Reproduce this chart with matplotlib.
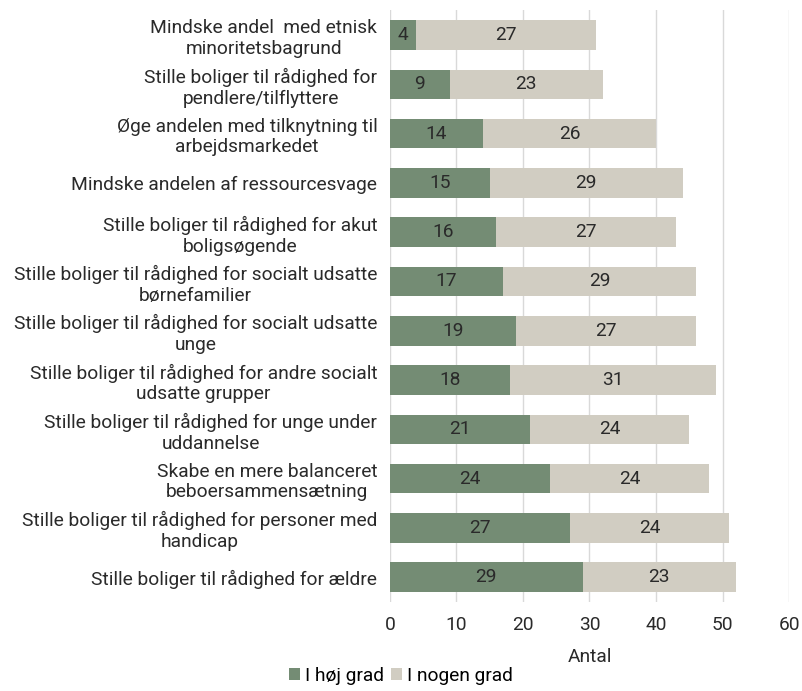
import numpy as np
import matplotlib.pyplot as plt

plt.rcParams['font.family'] = ['Roboto', 'DejaVu Sans']

# indsatser, fra top til bund
kategorier = [
    "Mindske andel  med etnisk\nminoritetsbagrund",
    "Stille boliger til rådighed for\npendlere/tilflyttere",
    "Øge andelen med tilknytning til\narbejdsmarkedet",
    "Mindske andelen af ressourcesvage",
    "Stille boliger til rådighed for akut\nboligsøgende",
    "Stille boliger til rådighed for socialt udsatte\nbørnefamilier",
    "Stille boliger til rådighed for socialt udsatte\nunge",
    "Stille boliger til rådighed for andre socialt\nudsatte grupper",
    "Stille boliger til rådighed for unge under\nuddannelse",
    "Skabe en mere balanceret\nbeboersammensætning",
    "Stille boliger til rådighed for personer med\nhandicap",
    "Stille boliger til rådighed for ældre",
]
hoej_grad = [4, 9, 14, 15, 16, 17, 19, 18, 21, 24, 27, 29]
nogen_grad = [27, 23, 26, 29, 27, 29, 27, 31, 24, 24, 24, 23]
xticks = [0, 10, 20, 30, 40, 50, 60]

groen = '#748c74'
beige = '#d1cdc2'
tekst = '#2a2a2a'
fs = 13.8

fig = plt.figure(figsize=(8.02, 6.91), dpi=100)
ax = fig.add_axes([0.486, 0.129, 0.498, 0.856])

y = np.arange(len(kategorier))
h = np.array(hoej_grad)
n = np.array(nogen_grad)

b1 = ax.barh(y, h, height=0.6, color=groen, label='I høj grad', zorder=3)
b2 = ax.barh(y, n, left=h, height=0.6, color=beige, label='I nogen grad', zorder=3)

for i in range(len(y)):
    ax.text(h[i] / 2, y[i], str(h[i]), ha='center', va='center', fontsize=fs, color=tekst, zorder=4)
    ax.text(h[i] + n[i] / 2, y[i], str(n[i]), ha='center', va='center', fontsize=fs, color=tekst, zorder=4)

ax.set_ylim(len(y) - 0.5, -0.5)
ax.set_xlim(0, 60)
ax.set_xticks(xticks)
ax.set_yticks(y)
ax.set_yticklabels(kategorier, multialignment='center', fontsize=fs, color=tekst)
ax.tick_params(axis='y', length=0, pad=9)
ax.tick_params(axis='x', length=0, pad=10, labelsize=fs, labelcolor=tekst)
ax.grid(axis='x', color='#d9d9d9', linewidth=1, zorder=0)
for s in ax.spines.values():
    s.set_visible(False)

ax.set_xlabel('Antal', fontsize=fs, color=tekst, labelpad=10)

fig.legend(handles=[b1, b2], loc='lower center', bbox_to_anchor=(0.5, -0.016), ncol=2,
           frameon=False, fontsize=fs, handlelength=0.55, handleheight=0.55,
           handletextpad=0.25, columnspacing=0.4)

fig.savefig('out.png', dpi=100)
